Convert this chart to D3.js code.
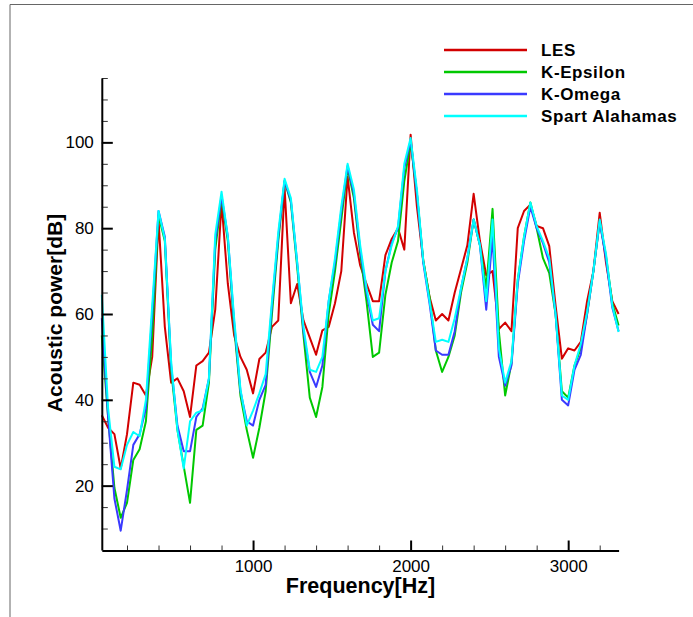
<!DOCTYPE html>
<html>
<head>
<meta charset="utf-8">
<script src="https://cdn.jsdelivr.net/npm/d3@7"></script>
<style>
body { margin: 0; background: #fff; }
svg { display: block; font-family: "Liberation Sans", Arial, sans-serif; }
</style>
</head>
<body>
<svg id="chart" width="693" height="617"></svg>
<script>
// frequency samples [Hz]
var freq = [40, 80, 120, 160, 200, 240, 280, 320, 360, 400,
  440, 480, 520, 560, 600, 640, 680, 720, 760, 800,
  840, 880, 920, 960, 1000, 1040, 1080, 1120, 1160, 1200,
  1240, 1280, 1320, 1360, 1400, 1440, 1480, 1520, 1560, 1600,
  1640, 1680, 1720, 1760, 1800, 1840, 1880, 1920, 1960, 2000,
  2040, 2080, 2120, 2160, 2200, 2240, 2280, 2320, 2360, 2400,
  2440, 2480, 2520, 2560, 2600, 2640, 2680, 2720, 2760, 2800,
  2840, 2880, 2920, 2960, 3000, 3040, 3080, 3120, 3160, 3200,
  3240, 3280, 3320];

// acoustic power [dB]
var les = [36.4, 33.5, 32, 24, 32, 44, 43.5, 41, 50, 82,
  57, 44, 45, 42, 36, 48, 49, 51, 61, 86,
  67, 55, 50, 47, 41.5, 49.5, 51, 57, 58.5, 89.5,
  62.5, 67, 58.5, 54.5, 50.5, 56.2, 57, 62.5, 70, 92,
  79, 71.3, 67, 63, 63, 73.7, 77.5, 80, 75, 101.8,
  85, 72.5, 64, 58.5, 60, 58.5, 65, 70.5, 76, 88,
  77, 69, 70, 56.5, 58, 56, 80, 84, 85.5, 80.5,
  80, 75.8, 62, 49.6, 52, 51.5, 53.5, 63, 70, 83.6,
  72, 63, 60];

var kEpsilon = [55, 36, 19.5, 12.5, 16, 26, 28.5, 35, 55, 83,
  77, 47, 33, 24.5, 16, 33, 34, 44, 75, 87,
  77, 57, 41, 33, 26.5, 33.5, 42, 60, 77, 91,
  86, 71, 55, 40.5, 36, 43, 60, 70, 82, 94,
  87, 74, 63, 50, 51, 64.5, 72, 77, 91, 100,
  88, 72.5, 64, 51.5, 46.5, 50, 55, 65, 72, 82,
  76, 66, 84.5, 56, 41, 48.5, 68, 78, 86, 80,
  73, 69.5, 60, 42, 40.5, 48, 52, 60, 70, 81.5,
  73.5, 62.5, 57.3];

var kOmega = [59, 36, 17, 9.5, 19, 29.5, 32, 38, 60, 84,
  78, 48, 34, 28, 28, 36, 38, 45, 77, 87.5,
  78, 58, 42, 35, 34, 40, 43.5, 62, 78, 91,
  86.5, 72, 56, 46.5, 43, 48, 63, 72, 84, 94.5,
  88, 75, 65, 57.5, 56, 70, 76.5, 80, 94, 100.5,
  88, 72, 62.5, 51.5, 50.5, 50.5, 56, 66, 73, 82,
  76, 61, 78, 50, 43.3, 48, 67, 77, 85, 80,
  76.5, 72, 60, 40, 38.7, 47, 50.5, 60, 70, 81.5,
  73, 61.5, 56];

var spalart = [64.5, 38, 24.4, 23.8, 29.5, 32.5, 31.5, 40, 62, 84,
  77.5, 49, 33, 24, 35, 37, 37.5, 45, 78.5, 88.5,
  78, 59, 42.5, 34, 37.5, 41.5, 46, 63, 79, 91.5,
  87, 72, 57, 47, 46.5, 50, 63, 73, 85, 95,
  89, 76, 66, 58.5, 59, 70, 76, 80.5, 95, 101,
  89, 72.5, 63, 53.5, 54, 53.5, 59, 66, 73, 82,
  76, 63, 82, 52, 44, 49, 68, 78, 86, 80.5,
  77, 73, 60, 41, 40, 48, 53, 60.4, 70, 82,
  74, 62, 55.8];

var seriesNames = ["LES", "K-Epsilon", "K-Omega", "Spart Alahamas"];
var seriesColors = ["#d20000", "#00c800", "#3a3aff", "#00ffff"];

var xMajor = [1000, 2000, 3000];
var xMinor = [200, 400, 600, 800, 1200, 1400, 1600, 1800, 2200, 2400, 2600, 2800, 3200];
var yMajor = [20, 40, 60, 80, 100];
var yMinor = [10, 15, 25, 30, 35, 45, 50, 55, 65, 70, 75, 85, 90, 95, 105, 110, 115];

var svg = d3.select("#chart");

// outer frame (top + left edge)
svg.append("path")
  .attr("d", "M10,617V4.5H693")
  .attr("fill", "none")
  .attr("stroke", "#666")
  .attr("stroke-width", 1);

var x = d3.scaleLinear().domain([40, 3320]).range([101.8, 618.6]);
var y = d3.scaleLinear().domain([5, 115]).range([550, 78]);

var series = [les, kEpsilon, kOmega, spalart];

var line = d3.line()
  .x(function(d, i) { return x(freq[i]); })
  .y(function(d) { return y(d); });

var plot = svg.append("g");
series.forEach(function(s, k) {
  plot.append("path")
    .datum(s)
    .attr("d", line)
    .attr("fill", "none")
    .attr("stroke", seriesColors[k])
    .attr("stroke-width", 2)
    .attr("stroke-linejoin", "round");
});

// minor ticks
svg.append("g")
  .attr("transform", "translate(0,550.5)")
  .call(d3.axisBottom(x).tickValues(xMinor).tickSize(-5).tickSizeOuter(0).tickFormat(""))
  .call(function(g) { g.select(".domain").remove(); })
  .selectAll("line").attr("stroke", "#333");

svg.append("g")
  .attr("transform", "translate(101.8,0)")
  .call(d3.axisLeft(y).tickValues(yMinor).tickSize(-6).tickSizeOuter(0).tickFormat(""))
  .call(function(g) { g.select(".domain").remove(); })
  .selectAll("line").attr("stroke", "#333");

// major axes
var xAxis = svg.append("g")
  .attr("transform", "translate(0,550.5)")
  .call(d3.axisBottom(x).tickValues(xMajor).tickSize(-10).tickSizeOuter(0)
    .tickPadding(9).tickFormat(d3.format("d")));
xAxis.select(".domain").attr("stroke-width", 2);
xAxis.selectAll("line").attr("stroke-width", 2);
xAxis.selectAll("text").attr("font-size", 17).attr("fill", "#000")
  .attr("font-family", "Liberation Sans, Arial, sans-serif");

var yAxis = svg.append("g")
  .attr("transform", "translate(101.8,0)")
  .call(d3.axisLeft(y).tickValues(yMajor).tickSize(-11).tickSizeOuter(0)
    .tickPadding(8).tickFormat(d3.format("d")));
yAxis.select(".domain").attr("stroke-width", 2);
yAxis.selectAll("line").attr("stroke-width", 2);
yAxis.selectAll("text").attr("font-size", 17).attr("fill", "#000")
  .attr("font-family", "Liberation Sans, Arial, sans-serif");

// axis titles
svg.append("text")
  .attr("x", 360.5)
  .attr("y", 593)
  .attr("text-anchor", "middle")
  .attr("font-size", 21.5)
  .attr("font-weight", "bold")
  .text("Frequency[Hz]");

svg.append("text")
  .attr("transform", "translate(62,313) rotate(-90)")
  .attr("text-anchor", "middle")
  .attr("font-size", 21)
  .attr("font-weight", "bold")
  .text("Acoustic power[dB]");

// legend
var legend = svg.selectAll(".legend")
  .data(seriesNames)
  .enter()
  .append("g")
  .attr("class", "legend")
  .attr("transform", function(d, i) { return "translate(444," + (50 + i * 22) + ")"; });

legend.append("line")
  .attr("x1", 0).attr("x2", 83)
  .attr("stroke", function(d, i) { return seriesColors[i]; })
  .attr("stroke-width", 2.5);

legend.append("text")
  .attr("x", 97)
  .attr("dy", "0.36em")
  .attr("font-size", 17)
  .attr("font-weight", "bold")
  .attr("letter-spacing", 0.6)
  .text(function(d) { return d; });
</script>
</body>
</html>
